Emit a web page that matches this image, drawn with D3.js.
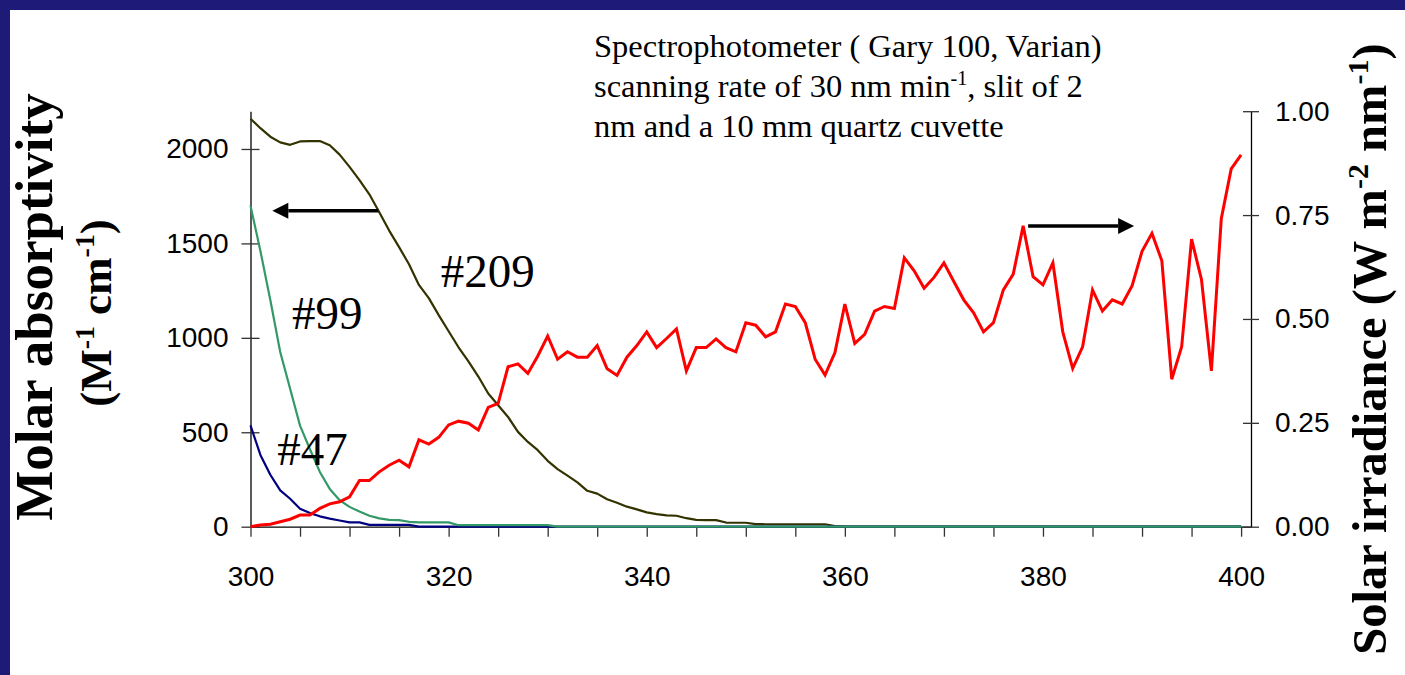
<!DOCTYPE html>
<html>
<head>
<meta charset="utf-8">
<script src="https://cdn.jsdelivr.net/npm/d3@7"></script>
<style>
  body { margin: 0; background: #fff; }
  svg { display: block; }
</style>
</head>
<body>
<svg id="chart" width="1405" height="675"></svg>
<script>
// Wavelength categories (nm)
const wavelengths = d3.range(300, 401);

// Molar absorptivity (M-1 cm-1), left axis
const abs209 = [
  2160, 2110, 2065, 2035, 2022, 2040, 2042, 2042, 2020, 1970,
  1905, 1835, 1760, 1665, 1568, 1480, 1390, 1280, 1210, 1120,
  1035, 950, 875, 795, 705, 643, 581, 502, 449, 405,
  349, 305, 270, 235, 190, 175, 145, 127, 106, 92,
  76, 67, 60, 58, 45, 36, 35, 35, 22, 21,
  21, 14, 13, 13, 13, 13, 13, 13, 13, 3,
  0, 0, 0, 0, 0, 0, 0, 0, 0, 0,
  0, 0, 0, 0, 0, 0, 0, 0, 0, 0,
  0, 0, 0, 0, 0, 0, 0, 0, 0, 0,
  0, 0, 0, 0, 0, 0, 0, 0, 0, 0,
  0
];
const abs99 = [
  1700, 1460, 1200, 925, 730, 535, 410, 290, 200, 140,
  105, 80, 58, 44, 36, 35, 26, 23, 23, 23,
  23, 8, 8, 8, 8, 8, 8, 8, 8, 8,
  8, 0, 0, 0, 0, 0, 0, 0, 0, 0,
  0, 0, 0, 0, 0, 0, 0, 0, 0, 0,
  0, 0, 0, 0, 0, 0, 0, 0, 0, 0,
  0, 0, 0, 0, 0, 0, 0, 0, 0, 0,
  0, 0, 0, 0, 0, 0, 0, 0, 0, 0,
  0, 0, 0, 0, 0, 0, 0, 0, 0, 0,
  0, 0, 0, 0, 0, 0, 0, 0, 0, 0,
  0
];
const abs47 = [
  536, 380, 275, 192, 148, 95, 72, 55, 43, 33,
  23, 23, 10, 10, 10, 10, 10, 0, 0, 0,
  0, 0, 0, 0, 0, 0, 0, 0, 0, 0,
  0, 0, 0, 0, 0, 0, 0, 0, 0, 0,
  0, 0, 0, 0, 0, 0, 0, 0, 0, 0,
  0, 0, 0, 0, 0, 0, 0, 0, 0, 0,
  0, 0, 0, 0, 0, 0, 0, 0, 0, 0,
  0, 0, 0, 0, 0, 0, 0, 0, 0, 0,
  0, 0, 0, 0, 0, 0, 0, 0, 0, 0,
  0, 0, 0, 0, 0, 0, 0, 0, 0, 0,
  0
];

// Solar irradiance (W m-2 nm-1), right axis
const solar = [
  0, 0.004, 0.006, 0.012, 0.018, 0.028, 0.028, 0.044, 0.055, 0.060,
  0.072, 0.111, 0.111, 0.132, 0.148, 0.160, 0.144, 0.209, 0.199, 0.215,
  0.245, 0.254, 0.249, 0.233, 0.287, 0.297, 0.385, 0.392, 0.369, 0.411,
  0.459, 0.403, 0.421, 0.408, 0.408, 0.436, 0.380, 0.364, 0.408, 0.436,
  0.469, 0.431, 0.453, 0.476, 0.375, 0.431, 0.431, 0.452, 0.431, 0.421,
  0.491, 0.485, 0.457, 0.469, 0.536, 0.530, 0.491, 0.403, 0.365, 0.419,
  0.536, 0.441, 0.463, 0.519, 0.530, 0.525, 0.647, 0.616, 0.574, 0.600,
  0.635, 0.590, 0.546, 0.515, 0.469, 0.491, 0.570, 0.608, 0.724, 0.602,
  0.582, 0.635, 0.469, 0.381, 0.433, 0.570, 0.519, 0.546, 0.536, 0.580,
  0.663, 0.706, 0.640, 0.355, 0.433, 0.692, 0.595, 0.375, 0.741, 0.861,
  0.895
];

// Axis ticks
const xTicks = d3.range(300, 401, 5);
const leftTicks = [0, 500, 1000, 1500, 2000];
const rightTicks = [0, 0.25, 0.5, 0.75, 1];

// Text: strings starting with ^ are superscripts
const leftTitle1 = ['Molar absorptivity'];
const leftTitle2 = ['(M', '^-1', ' cm', '^-1', ')'];
const rightTitle = ['Solar irradiance (W m', '^-2', ' nm', '^-1', ')'];
const noteLines = [
  ['Spectrophotometer ( Gary 100, Varian)'],
  ['scanning rate of 30 nm min', '^-1', ', slit of 2'],
  ['nm and a 10 mm quartz cuvette']
];
const seriesLabels = [
  { text: '#209', wl: 319.2, value: 1270 },
  { text: '#99', wl: 304.2, value: 1045 },
  { text: '#47', wl: 302.7, value: 325 }
];
// Arrows pointing to the axis each group of curves uses
const arrows = [
  { from: 312.9, to: 302.2, value: 1673, side: 'left' },
  { from: 378.5, to: 389.2, value: 0.724, side: 'right' }
];

const svg = d3.select('#chart');
const serif = '"Liberation Serif", "Times New Roman", serif';
const sans = '"Liberation Sans", Arial, sans-serif';

// Navy frame at top and left
svg.append('rect').attr('x', 0).attr('y', 0).attr('width', 1405).attr('height', 10).attr('fill', '#1e1a78');
svg.append('rect').attr('x', 0).attr('y', 0).attr('width', 10).attr('height', 675).attr('fill', '#1e1a78');

// Scales
const x = d3.scaleLinear().domain([300, 401]).range([250.5, 1251]);
const yL = d3.scaleLinear().domain([0, 2200]).range([526.7, 111.2]);
const yR = d3.scaleLinear().domain([0, 1]).range([526.7, 111.2]);

// Helper to write text with superscripts
function rich(text, parts, size, supScale = 0.62) {
  parts.forEach((p, i) => {
    const sup = p.startsWith('^');
    const prevSup = i > 0 && parts[i - 1].startsWith('^');
    text.append('tspan')
      .attr('font-size', sup ? size * supScale : size)
      .attr('dy', sup ? -size * 0.38 : (prevSup ? size * 0.38 : 0))
      .text(sup ? p.slice(1) : p);
  });
}

// --- Axes ---
const xAxis = svg.append('g')
  .attr('transform', `translate(0,${yL(0)})`)
  .call(d3.axisBottom(x)
    .tickValues(xTicks)
    .tickSize(10)
    .tickSizeOuter(0)
    .tickPadding(29)
    .tickFormat(d => d % 20 === 0 ? d : ''));

const leftAxis = svg.append('g')
  .attr('transform', `translate(${x(300)},0)`)
  .call(d3.axisLeft(yL)
    .tickValues(leftTicks)
    .tickSize(9)
    .tickSizeOuter(0)
    .tickPadding(13)
    .tickFormat(d3.format('d')));
leftAxis.selectAll('.tick line').attr('x1', 9);

const rightAxis = svg.append('g')
  .attr('transform', `translate(${x(401)},0)`)
  .call(d3.axisRight(yR)
    .tickValues(rightTicks)
    .tickSize(8)
    .tickSizeOuter(0)
    .tickPadding(16)
    .tickFormat(d3.format('.2f')));
rightAxis.selectAll('.tick line').attr('x1', -8);

[xAxis, leftAxis, rightAxis].forEach(g => {
  g.select('.domain').attr('stroke', '#000').attr('stroke-width', 1.3);
  g.selectAll('.tick line').attr('stroke', '#333').attr('stroke-width', 1.3);
  g.selectAll('.tick text')
    .attr('font-family', sans)
    .attr('font-size', 28)
    .attr('fill', '#000');
});

// --- Lines ---
const lineLeft = d3.line().x((d, i) => x(wavelengths[i])).y(d => yL(d));
const lineRight = d3.line().x((d, i) => x(wavelengths[i])).y(d => yR(d));

const leftSeries = [
  { values: abs209, color: '#333300', width: 2.2 },
  { values: abs47, color: '#000080', width: 2.2 },
  { values: abs99, color: '#339966', width: 2.2 }
];
leftSeries.forEach(s => {
  svg.append('path')
    .attr('d', lineLeft(s.values))
    .attr('fill', 'none')
    .attr('stroke', s.color)
    .attr('stroke-width', s.width)
    .attr('stroke-linejoin', 'round');
});

svg.append('path')
  .attr('d', lineRight(solar))
  .attr('fill', 'none')
  .attr('stroke', '#ff0000')
  .attr('stroke-width', 3)
  .attr('stroke-linejoin', 'miter');

// --- Arrows ---
arrows.forEach(a => {
  const yy = a.side === 'left' ? yL(a.value) : yR(a.value);
  const x0 = x(a.from), x1 = x(a.to);
  const dir = Math.sign(x1 - x0);
  const headLen = 16, headHalf = 8;
  svg.append('line')
    .attr('x1', x0).attr('y1', yy)
    .attr('x2', x1 - dir * headLen).attr('y2', yy)
    .attr('stroke', '#000')
    .attr('stroke-width', 3.5);
  svg.append('path')
    .attr('d', `M${x1},${yy}L${x1 - dir * headLen},${yy - headHalf}L${x1 - dir * headLen},${yy + headHalf}Z`)
    .attr('fill', '#000');
});

// --- Series labels ---
seriesLabels.forEach(l => {
  svg.append('text')
    .attr('x', x(l.wl))
    .attr('y', yL(l.value))
    .attr('font-family', serif)
    .attr('font-size', 47)
    .attr('fill', '#000')
    .text(l.text);
});

// --- Instrument note ---
noteLines.forEach((parts, i) => {
  const t = svg.append('text')
    .attr('x', 594)
    .attr('y', 57 + i * 40)
    .attr('font-family', serif)
    .attr('fill', '#000');
  rich(t, parts, 32.5);
});

// --- Axis titles ---
const lt1 = svg.append('text')
  .attr('transform', 'translate(52,307) rotate(-90)')
  .attr('text-anchor', 'middle')
  .attr('font-family', serif)
  .attr('font-weight', 'bold')
  .attr('fill', '#000');
rich(lt1, leftTitle1, 53);

const lt2 = svg.append('text')
  .attr('transform', 'translate(111,313) rotate(-90)')
  .attr('text-anchor', 'middle')
  .attr('font-family', serif)
  .attr('font-weight', 'bold')
  .attr('fill', '#000');
rich(lt2, leftTitle2, 45);

const rt = svg.append('text')
  .attr('transform', 'translate(1386,349) rotate(-90)')
  .attr('text-anchor', 'middle')
  .attr('font-family', serif)
  .attr('font-weight', 'bold')
  .attr('fill', '#000');
rich(rt, rightTitle, 48.5);
</script>
</body>
</html>
